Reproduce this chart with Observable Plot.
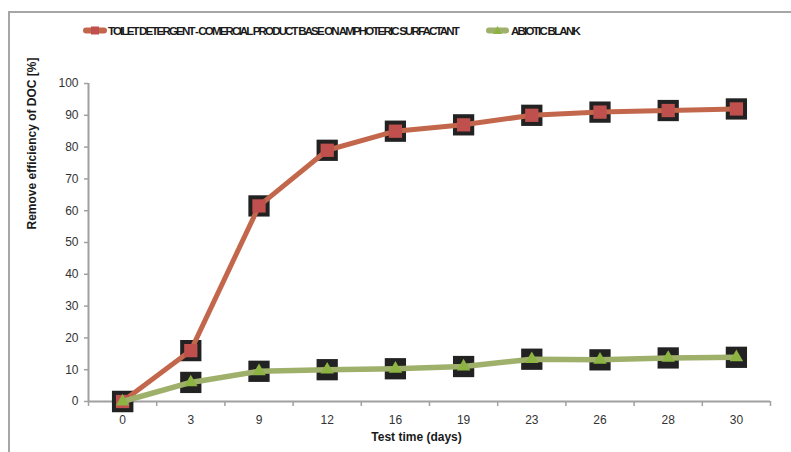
<!DOCTYPE html>
<html>
<head>
<meta charset="utf-8">
<script src="https://cdn.jsdelivr.net/npm/d3@7"></script>
<script src="https://cdn.jsdelivr.net/npm/@observablehq/plot@0.6"></script>
<style>
  html, body { margin: 0; padding: 0; background: #fff; }
  body { width: 791px; height: 452px; overflow: hidden; position: relative; font-family: "Liberation Sans", Arial, sans-serif; }
  #border { position: absolute; left: 8px; top: 11px; width: 820px; height: 480px; border-top: 2px solid #a6a6a6; border-left: 2px solid #a6a6a6; pointer-events: none; }
  #legend { position: absolute; left: 0; top: 0; }
  #chart { position: absolute; left: 0; top: 50px; }
</style>
</head>
<body>
<div id="legend"></div>
<div id="chart"></div>
<div id="border"></div>
<script>
const days = ["0", "3", "9", "12", "16", "19", "23", "26", "28", "30"];
const detergent = [0, 16, 61.5, 79, 85, 87, 90, 91, 91.5, 92];
const blank = [0, 6, 9.5, 10, 10.3, 11, 13.3, 13.1, 13.7, 13.9];
const seriesNames = ["TOILET DETERGENT - COMERCIAL PRODUCT BASE ON AMPHOTERIC SURFACTANT", "ABIOTIC BLANK"];
const yTicks = [0, 10, 20, 30, 40, 50, 60, 70, 80, 90, 100];
const yTitle = "Remove efficiency of DOC [%]";
const xTitle = "Test time (days)";

const lineColors = ["#c3674c", "#9fb06b"];
const markerColors = ["#c0504d", "#8db443"];

const detRows = days.map((d, i) => ({pos: i + 0.5, v: detergent[i]}));
const blankRows = days.map((d, i) => ({pos: i + 0.5, v: blank[i]}));
const allRows = detRows.concat(blankRows);
const bounds = d3.range(days.length + 1);
const centers = days.map((d, i) => i + 0.5);

// Legend
const leg = d3.select("#legend").append("svg").attr("width", 791).attr("height", 50);
const legItems = [
  {x0: 86, x1: 104, tx: 108, tw: 350, name: seriesNames[0], lc: lineColors[0], mc: markerColors[0], sym: "square"},
  {x0: 489, x1: 506, tx: 511, tw: 68, name: seriesNames[1], lc: lineColors[1], mc: markerColors[1], sym: "triangle"}
];
for (const it of legItems) {
  leg.append("line").attr("x1", it.x0).attr("x2", it.x1).attr("y1", 30.5).attr("y2", 30.5)
    .attr("stroke", it.lc).attr("stroke-width", 6).attr("stroke-linecap", "round");
  const cx = (it.x0 + it.x1) / 2;
  if (it.sym === "square") {
    leg.append("rect").attr("x", cx - 4).attr("y", 26.5).attr("width", 8).attr("height", 8).attr("fill", it.mc);
  } else {
    leg.append("path").attr("d", `M${cx},26 L${cx + 4.5},34 L${cx - 4.5},34 Z`).attr("fill", it.mc);
  }
  const t = leg.append("text").attr("x", it.tx).attr("y", 35)
    .attr("font-size", 11.5).attr("font-weight", "bold").attr("fill", "#1a1a1a")
    .attr("font-family", "'Liberation Sans', Arial, sans-serif").text(it.name);
  const natural = t.node().getComputedTextLength();
  const n = it.name.length;
  t.attr("letter-spacing", ((it.tw - natural) / n).toFixed(3) + "px");
}

const chart = Plot.plot({
  width: 791,
  height: 402,
  marginLeft: 88,
  marginRight: 21,
  marginTop: 33,
  marginBottom: 51,
  style: {fontFamily: "'Liberation Sans', Arial, sans-serif", fontSize: "12px", color: "#333", background: "transparent"},
  x: {type: "linear", domain: [0, days.length], axis: null},
  y: {domain: [0, 100], axis: null},
  marks: [
    Plot.axisY(yTicks, {label: null, tickSize: 4, tickPadding: 6, stroke: "#a0a0a0", strokeWidth: 1.5, fill: "#333", fontSize: 12}),
    Plot.axisX(bounds, {label: null, tickSize: 5, tickFormat: () => "", stroke: "#a0a0a0", strokeWidth: 1.5}),
    Plot.axisX(centers, {label: null, tickSize: 0, tickPadding: 14, tickFormat: (d) => days[Math.round(d - 0.5)], fill: "#333", fontSize: 12}),
    Plot.ruleY([0], {stroke: "#a0a0a0", strokeWidth: 2}),
    Plot.ruleX([0], {stroke: "#a0a0a0", strokeWidth: 2}),
    Plot.dot(allRows, {x: "pos", y: "v", symbol: "square", r: 12, fill: "#222"}),
    Plot.line(detRows, {x: "pos", y: "v", stroke: lineColors[0], strokeWidth: 5}),
    Plot.dot(detRows, {x: "pos", y: "v", symbol: "square", r: 7.5, fill: markerColors[0]}),
    Plot.line(blankRows, {x: "pos", y: "v", stroke: lineColors[1], strokeWidth: 5.5}),
    Plot.dot(blankRows, {x: "pos", y: "v", symbol: "triangle", r: 5, fill: markerColors[1]}),
    Plot.text([yTitle], {frameAnchor: "left", dx: -56, dy: -13, rotate: -90, fontWeight: "bold", fontSize: 12, fill: "#1a1a1a"}),
    Plot.text([xTitle], {frameAnchor: "bottom", dx: -13, dy: 39, fontWeight: "bold", fontSize: 12, fill: "#1a1a1a"})
  ]
});
document.getElementById("chart").appendChild(chart);
</script>
</body>
</html>
